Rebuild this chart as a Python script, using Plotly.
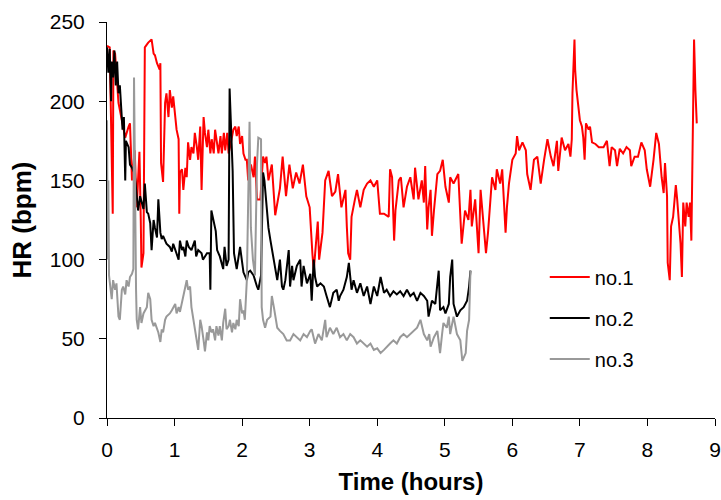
import plotly.graph_objects as go

# ---- data (time in hours, HR in bpm) ----
t1 = [0.00,0.04,0.085,0.095,0.12,0.17,0.22,0.27,0.32,0.34,0.37,0.41,0.44,0.48,0.50,0.51,0.54,0.56,0.61,0.66,
      0.69,0.71,0.74,0.78,0.79,0.80,0.83,0.86,0.88,0.91,0.93,0.96,0.98,1.01,1.03,1.06,1.07,1.08,1.11,1.13,
      1.16,1.18,1.20,1.23,1.25,1.28,1.30,1.33,1.35,1.38,1.40,1.43,1.45,1.48,1.50,1.53,1.55,1.58,1.60,1.63,
      1.65,1.68,1.70,1.73,1.75,1.78,1.80,1.83,1.87,1.90,1.92,1.95,1.97,2.00,2.02,2.05,2.07,2.09,2.13,2.17,
      2.19,2.22,2.27,2.31,2.34,2.36,2.39,2.44,2.49,2.56,2.60,2.65,2.70,2.75,2.80,2.85,2.90,2.95,3.00,3.04,
      3.06,3.12,3.14,3.19,3.21,3.23,3.28,3.33,3.38,3.42,3.47,3.53,3.55,3.57,3.60,3.62,3.67,3.70,3.75,3.80,
      3.85,3.90,3.95,4.00,4.04,4.10,4.17,4.19,4.22,4.25,4.27,4.32,4.35,4.39,4.44,4.49,4.54,4.56,4.61,4.66,
      4.69,4.71,4.74,4.76,4.79,4.81,4.84,4.89,4.93,4.97,5.01,5.06,5.08,5.13,5.20,5.25,5.30,5.35,5.38,5.40,
      5.45,5.50,5.53,5.57,5.61,5.64,5.67,5.70,5.75,5.77,5.82,5.85,5.90,5.92,5.95,6.00,6.05,6.07,6.10,6.15,
      6.20,6.22,6.27,6.32,6.37,6.42,6.47,6.52,6.57,6.61,6.66,6.68,6.73,6.78,6.83,6.86,6.88,6.89,6.92,6.93,
      6.95,6.98,7.00,7.03,7.05,7.07,7.09,7.13,7.15,7.18,7.23,7.28,7.35,7.40,7.44,7.47,7.52,7.55,7.59,7.64,
      7.69,7.74,7.76,7.81,7.86,7.91,7.96,7.99,8.04,8.09,8.13,8.17,8.19,8.21,8.24,8.26,8.29,8.30,8.33,8.35,
      8.38,8.40,8.42,8.44,8.46,8.49,8.51,8.53,8.56,8.58,8.61,8.63,8.65,8.67,8.69,8.71,8.73]
hr1 = [235,234,129,232,230,199,188,177,184,186,150,169,133,168,125,95,104,234,237,239,
       230,229,224,220,224,161,149,199,205,190,207,196,203,188,182,176,129,155,157,144,
       158,152,174,163,171,167,180,171,163,184,144,190,180,171,182,167,176,167,182,173,
       167,178,167,180,169,180,167,173,182,184,178,184,173,178,167,163,163,150,160,152,
       165,138,138,165,161,165,150,160,128,145,165,140,160,145,155,148,160,140,133,104,
       93,124,100,117,131,150,156,140,143,154,133,144,121,104,100,127,138,144,133,144,
       148,150,146,150,129,129,127,157,152,112,131,150,152,133,146,152,138,158,138,150,
       136,159,119,133,144,115,131,154,156,163,146,136,152,148,154,110,131,125,144,121,
       138,104,144,123,104,117,136,152,144,157,148,157,117,133,148,163,167,178,169,174,
       169,154,144,163,165,148,163,176,165,159,175,156,177,169,173,165,176,205,239,220,
       207,196,188,184,177,163,186,182,184,174,173,171,171,175,159,171,169,159,170,167,
       171,169,159,165,165,174,169,157,146,163,180,173,161,152,142,161,140,98,87,121,
       127,140,147,138,125,110,89,136,121,136,127,136,112,184,239,207,186]

t2 = [0.00,0.02,0.04,0.06,0.07,0.09,0.11,0.13,0.15,0.17,0.19,0.21,0.23,0.25,0.27,0.28,0.32,0.34,0.37,0.41,
      0.44,0.46,0.49,0.51,0.54,0.56,0.59,0.61,0.64,0.66,0.69,0.71,0.74,0.76,0.79,0.81,0.83,0.86,0.88,0.93,
      0.96,0.98,1.01,1.03,1.06,1.08,1.11,1.13,1.16,1.18,1.21,1.25,1.30,1.32,1.35,1.40,1.42,1.45,1.48,1.52,
      1.53,1.545,1.58,1.61,1.63,1.67,1.72,1.74,1.77,1.80,1.815,1.83,1.86,1.88,1.92,1.97,2.00,2.02,2.07,2.09,
      2.12,2.17,2.22,2.24,2.28,2.31,2.33,2.36,2.39,2.42,2.47,2.52,2.56,2.59,2.61,2.64,2.69,2.71,2.74,2.76,
      2.81,2.86,2.88,2.91,2.96,3.01,3.03,3.06,3.08,3.11,3.16,3.21,3.25,3.30,3.35,3.40,3.43,3.45,3.50,3.55,
      3.58,3.60,3.62,3.65,3.70,3.75,3.80,3.85,3.90,3.95,4.00,4.05,4.10,4.14,4.19,4.24,4.29,4.34,4.39,4.44,
      4.49,4.54,4.59,4.64,4.69,4.74,4.76,4.81,4.86,4.91,4.93,4.98,5.01,5.06,5.08,5.11,5.13,5.18,5.23,5.28,
      5.33,5.36,5.38]
hr2 = [234,218,233,200,225,215,232,210,225,205,210,199,182,190,150,175,171,160,158,154,
       140,131,140,136,132,148,130,129,123,106,125,120,114,138,117,113,115,112,110,108,
       105,110,106,103,100,112,106,108,102,112,108,106,112,102,106,104,100,102,104,104,
       81,131,125,118,106,102,94,108,96,100,208,190,156,104,94,108,98,92,87,92,
       93,90,83,81,90,155,150,132,120,112,98,87,100,83,81,87,106,83,96,87,
       96,100,83,96,85,91,74,100,89,83,85,83,77,70,79,81,74,77,81,89,
       98,87,81,87,79,85,77,83,72,83,77,89,79,81,77,80,78,80,77,81,
       77,79,74,79,77,74,64,74,72,93,68,70,66,72,89,100,72,64,68,70,
       74,83,93]

t3 = [0.00,0.01,0.02,0.03,0.07,0.09,0.12,0.14,0.17,0.19,0.22,0.24,0.27,0.29,0.32,0.34,0.37,0.39,0.40,0.41,
      0.43,0.44,0.46,0.49,0.51,0.54,0.59,0.61,0.64,0.66,0.69,0.71,0.74,0.76,0.79,0.81,0.83,0.86,0.88,0.93,
      0.96,0.98,1.01,1.03,1.06,1.08,1.11,1.13,1.16,1.18,1.20,1.23,1.25,1.28,1.30,1.33,1.35,1.38,1.40,1.43,
      1.45,1.48,1.50,1.52,1.55,1.57,1.60,1.62,1.65,1.67,1.70,1.72,1.75,1.77,1.80,1.82,1.85,1.87,1.90,1.92,
      1.95,1.97,2.00,2.02,2.04,2.07,2.09,2.11,2.13,2.16,2.19,2.22,2.24,2.28,2.29,2.31,2.34,2.37,2.42,2.44,
      2.47,2.50,2.52,2.56,2.61,2.66,2.71,2.76,2.81,2.86,2.91,2.96,3.01,3.03,3.08,3.13,3.18,3.23,3.25,3.30,
      3.35,3.40,3.45,3.50,3.55,3.60,3.65,3.70,3.75,3.80,3.85,3.90,3.95,4.00,4.05,4.10,4.14,4.19,4.24,4.29,
      4.34,4.39,4.44,4.49,4.54,4.59,4.64,4.69,4.74,4.77,4.79,4.84,4.89,4.93,4.96,4.98,5.03,5.06,5.08,5.13,
      5.18,5.23,5.26,5.28,5.31,5.33,5.36,5.38]
hr3 = [188,100,150,90,75,87,81,85,64,62,81,83,78,87,83,89,91,94,215,150,
       81,62,56,70,60,66,70,79,75,62,58,60,56,54,48,56,54,62,64,66,
       68,70,72,66,70,67,73,75,81,87,81,83,70,62,58,49,43,62,58,49,
       42,54,49,58,54,56,49,58,52,58,49,60,69,56,58,62,54,60,56,62,
       58,75,66,68,62,87,142,187,120,100,90,160,177,176,70,62,57,62,64,77,
       70,62,57,55,53,49,49,53,51,49,53,51,55,56,47,53,49,62,51,57,
       53,57,51,53,49,53,51,47,49,47,45,47,43,44,41,43,45,47,49,47,
       51,53,51,53,55,57,62,53,49,53,45,51,55,41,53,60,57,64,53,64,
       53,49,36,38,41,55,62,93]

series_names = ["no.1", "no.2", "no.3"]
series_colors = ["#FF0000", "#000000", "#999999"]
x_ticks = [0, 1, 2, 3, 4, 5, 6, 7, 8, 9]
y_ticks = [0, 50, 100, 150, 200, 250]

fig = go.Figure()
for i, (xs, ys) in enumerate([(t1, hr1), (t2, hr2), (t3, hr3)]):
    fig.add_trace(go.Scatter(
        x=xs, y=ys, mode="lines", name=series_names[i], legendgroup=series_names[i],
        line=dict(color=series_colors[i], width=2),
    ))

font_family = "Liberation Sans, Arial, sans-serif"
fig.update_layout(
    width=721, height=500,
    margin=dict(l=107, r=6, t=22, b=82, autoexpand=False),
    paper_bgcolor="white", plot_bgcolor="white",
    font=dict(family=font_family, size=21, color="black"),
    showlegend=True,
    legend=dict(
        x=0.72, y=0.405, xanchor="left", yanchor="top",
        bgcolor="rgba(0,0,0,0)", font=dict(size=20),
        tracegroupgap=12, itemwidth=40,
    ),
    xaxis=dict(
        range=[0, 9], tickvals=x_ticks, showgrid=False, zeroline=False,
        showline=True, linecolor="black", linewidth=1, automargin=False,
        ticks="outside", ticklen=7, tickcolor="black", ticklabelstandoff=6,
        title=dict(text="<b>Time (hours)</b>", font=dict(size=24), standoff=12),
    ),
    yaxis=dict(
        range=[0, 250], tickvals=y_ticks, showgrid=False, zeroline=False,
        showline=True, linecolor="black", linewidth=1, automargin=False,
        ticks="outside", ticklen=7, tickcolor="black", ticklabelstandoff=10,
        title=dict(text="<b>HR (bpm)</b>", font=dict(size=26), standoff=10),
    ),
)

fig.write_html(
    "out.html",
    config={"displayModeBar": False},
    post_script="document.body.style.margin='0';document.body.style.overflow='hidden';",
)
